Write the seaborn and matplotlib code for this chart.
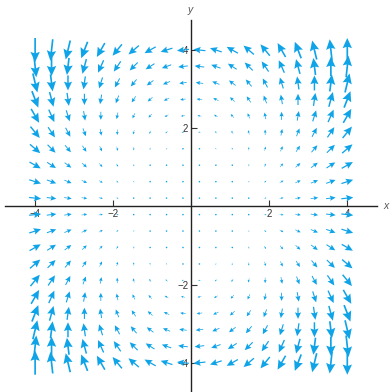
"""Vector field plot of w = z^2 in the style of a Mathematica VectorPlot."""

import numpy as np
import matplotlib
matplotlib.use("Agg")
import matplotlib.pyplot as plt
import seaborn as sns
from matplotlib.ticker import FixedLocator, MultipleLocator

# grid of sample points (20 per axis)
x_points = [-4.0, -3.579, -3.158, -2.737, -2.316, -1.895, -1.474, -1.053, -0.632, -0.211,
            0.211, 0.632, 1.053, 1.474, 1.895, 2.316, 2.737, 3.158, 3.579, 4.0]
y_points = list(x_points)

major_ticks = [-4, -2, 2, 4]
tick_labels = ["\u22124", "\u22122", "2", "4"]
arrow_color = "#0fa3e8"

# field (x^2 - y^2, 2xy), i.e. the complex map z -> z^2
X, Y = np.meshgrid(np.array(x_points), np.array(y_points))
Z = (X + 1j * Y) ** 2
U, V = Z.real, Z.imag

sns.set_style("white")
plt.rcParams["font.family"] = ["Liberation Sans", "DejaVu Sans"]

fig = plt.figure(figsize=(3.91, 3.92), dpi=100)
ax = fig.add_axes([0, 0, 1, 1])

ax.quiver(X, Y, U, V, color=arrow_color, pivot="middle",
          angles="xy", scale_units="xy", scale=52,
          units="dots", width=1.7, headwidth=5.5, headlength=6,
          headaxislength=5.2, minshaft=1.7, zorder=3)

ax.set_xlim(-4.90, 5.12)
ax.set_ylim(-4.75, 5.28)

for side in ["top", "right"]:
    ax.spines[side].set_visible(False)
for side in ["left", "bottom"]:
    ax.spines[side].set_position(("data", 0))
    ax.spines[side].set_color("#222222")
    ax.spines[side].set_linewidth(1.0)
ax.spines["bottom"].set_bounds(-4.77, 4.76)
ax.spines["left"].set_bounds(-4.8, 4.77)

ax.xaxis.set_major_locator(FixedLocator(major_ticks))
ax.yaxis.set_major_locator(FixedLocator(major_ticks))
ax.xaxis.set_minor_locator(MultipleLocator(0.5))
ax.yaxis.set_minor_locator(MultipleLocator(0.5))
ax.set_xticklabels(tick_labels)
ax.set_yticklabels(tick_labels)
ax.tick_params(which="major", direction="in", length=4, width=0.8,
               color="#333333", labelsize=7, labelcolor="#333333", pad=2)
ax.tick_params(which="minor", direction="in", length=2.5, width=0.6,
               color="#555555")
ax.tick_params(axis="x", bottom=True)
ax.tick_params(axis="y", left=True)

ax.text(4.99, 0, "x", style="italic", fontsize=7.5, color="#555555",
        ha="center", va="center")
ax.text(-0.03, 5.02, "y", style="italic", fontsize=7.5, color="#555555",
        ha="center", va="center")

fig.savefig("out.png", dpi=100)
